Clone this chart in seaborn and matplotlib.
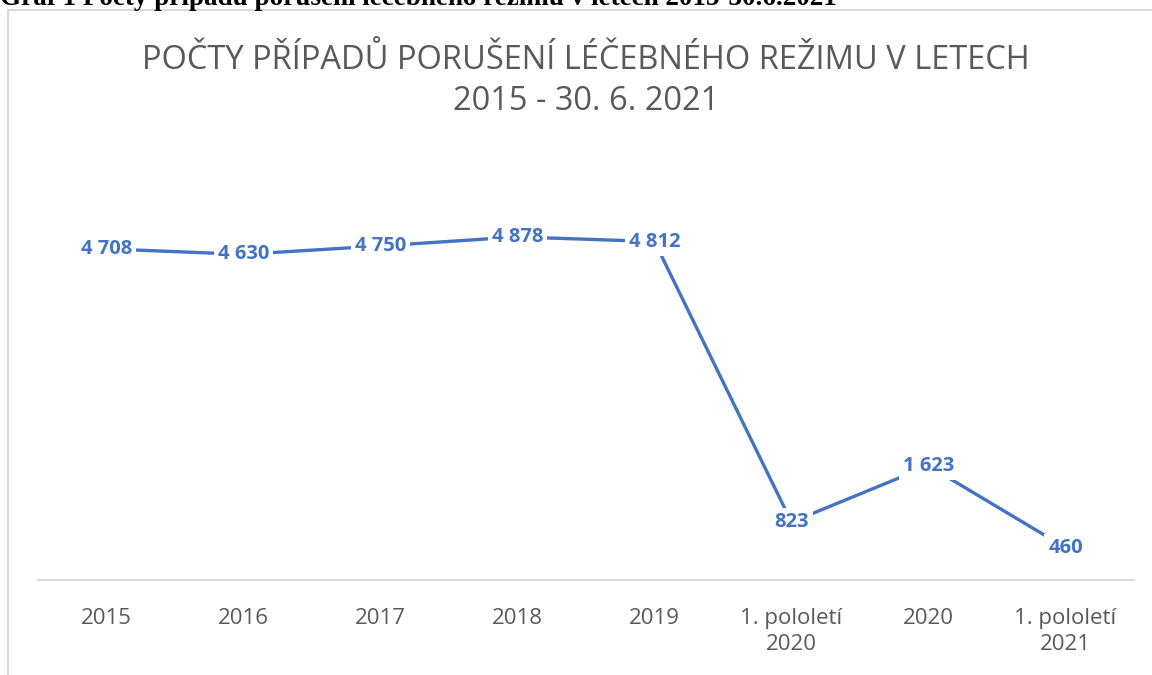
import matplotlib.pyplot as plt
import matplotlib.patches as mpatches
import pandas as pd
import seaborn as sns


CATEGORIES = ['2015', '2016', '2017', '2018', '2019', '1. pololetí\n2020', '2020', '1. pololetí\n2021']
CASES = [4708, 4630, 4750, 4878, 4812, 823, 1623, 460]
LABELS = ['4 708', '4 630', '4 750', '4 878', '4 812', '823', '1 623', '460']

TITLE = 'POČTY PŘÍPADŮ PORUŠENÍ LÉČEBNÉHO REŽIMU V LETECH\n2015 - 30. 6. 2021'
CAPTION = 'Graf 1 Počty případů porušení léčebného režimu v letech 2015-30.6.2021'

BLUE = '#4472C4'
GRAY = '#595959'


def main() -> None:
  df = pd.DataFrame({'pos': range(len(CATEGORIES)), 'cases': CASES})

  sns.set_style('white')
  plt.rcParams['font.family'] = ['Open Sans', 'DejaVu Sans']

  fig = plt.figure(figsize=(11.52, 6.75), dpi=100)
  ax = fig.add_axes([38 / 1152, 1 - 580 / 675, 1096 / 1152, 422 / 675])

  sns.lineplot(x='pos', y='cases', data=df, color=BLUE, linewidth=2.4, ax=ax, zorder=2)

  for i, (v, lab) in enumerate(zip(CASES, LABELS)):
    ax.text(i, v, lab, ha='center', va='center', fontsize=14.5, fontweight='bold',
            color=BLUE, zorder=3,
            bbox=dict(boxstyle='square,pad=0.2', fc='white', ec='none'))

  ax.set_xlim(-0.5, len(CATEGORIES) - 0.5)
  ax.set_ylim(0, 6000)
  ax.set_xticks(range(len(CATEGORIES)))
  ax.set_xticklabels(CATEGORIES, fontsize=16, color=GRAY, linespacing=1.35, va='top')
  ax.set_yticks([])
  ax.set_xlabel('')
  ax.set_ylabel('')
  ax.tick_params(axis='x', length=0, pad=20)
  for side in ['left', 'right', 'top']:
    ax.spines[side].set_visible(False)
  ax.spines['bottom'].set_color('#d9d9d9')
  ax.spines['bottom'].set_linewidth(1.3)
  ax.set_facecolor('none')

  fig.text(586 / 1152, 1 - 81 / 675, TITLE, ha='center', va='center', fontsize=23.5,
           color=GRAY, linespacing=1.3)

  # chart frame, runs off the right and bottom edges
  fig.patches.append(mpatches.Rectangle((8 / 1152, -0.1), 1.2, 1 - 10 / 675 + 0.1,
                                        transform=fig.transFigure, fill=False,
                                        ec='#d9d9d9', lw=1.5, zorder=0))

  # caption of the source document, cut at the top edge like in the original
  fig.text(0, 1 + 2 / 675, CAPTION, ha='left', va='center', fontsize=19.5,
           fontweight='bold', family='Liberation Serif', color='black')

  fig.savefig('out.png', dpi=100)


if __name__ == '__main__':
  main()
